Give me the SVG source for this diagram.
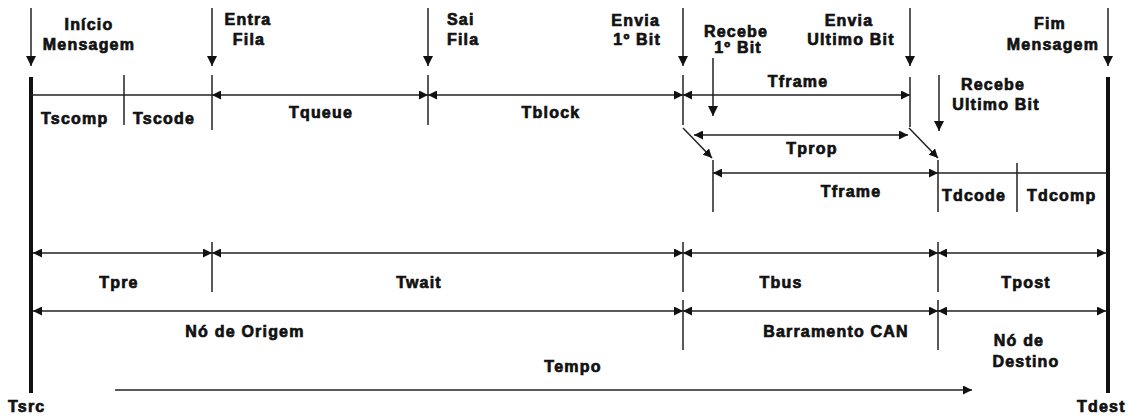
<svg xmlns="http://www.w3.org/2000/svg" width="1131" height="417" viewBox="0 0 1131 417">
<style>
  .t{font-family:"Liberation Sans",Arial,sans-serif;font-weight:bold;font-size:16px;letter-spacing:1.2px;fill:#111;stroke:#111;stroke-width:0.7px;paint-order:stroke}
  .m{text-anchor:middle}
  .e{text-anchor:end}
  .ln{stroke:#222;stroke-width:1.5;fill:none}
  .dim{stroke:#222;stroke-width:1.5;fill:none;marker-start:url(#ah);marker-end:url(#ah)}
  .one{stroke:#222;stroke-width:1.5;fill:none;marker-end:url(#ah)}
  .down{stroke:#222;stroke-width:1.5;fill:none;marker-end:url(#dh)}
  .bar{stroke:#111;stroke-width:4;fill:none}
</style>
<defs>
  <marker id="ah" markerUnits="userSpaceOnUse" markerWidth="10" markerHeight="9" refX="9" refY="4.5" orient="auto-start-reverse">
    <path d="M0,0 L9,4.5 L0,9 z" fill="#111"/>
  </marker>
  <marker id="dh" markerUnits="userSpaceOnUse" markerWidth="11" markerHeight="10" refX="10" refY="5" orient="auto">
    <path d="M0,0 L10,5 L0,10 z" fill="#111"/>
  </marker>
</defs>
<rect width="1131" height="417" fill="#fff"/>

<g id="connectors">
  <!-- thick time bars -->
  <line class="bar" x1="31" y1="77" x2="31" y2="393"/>
  <line class="bar" x1="1108" y1="77" x2="1108" y2="393"/>
  <!-- event arrows -->
  <line class="down" x1="31" y1="8" x2="31" y2="66"/>
  <line class="down" x1="212" y1="8" x2="212" y2="66"/>
  <line class="down" x1="428" y1="8" x2="428" y2="66"/>
  <line class="down" x1="683" y1="8" x2="683" y2="66"/>
  <line class="down" x1="910" y1="8" x2="910" y2="66"/>
  <line class="down" x1="1108" y1="8" x2="1108" y2="66"/>
  <line class="down" x1="713" y1="58" x2="713" y2="116"/>
  <line class="down" x1="939" y1="75" x2="939" y2="131"/>
  <!-- row 1 -->
  <line class="ln" x1="31" y1="95" x2="212" y2="95"/>
  <line class="dim" x1="212" y1="95" x2="428" y2="95"/>
  <line class="dim" x1="428" y1="95" x2="683" y2="95"/>
  <line class="dim" x1="683" y1="95" x2="910" y2="95"/>
  <line class="ln" x1="124" y1="75" x2="124" y2="125"/>
  <line class="ln" x1="212" y1="75" x2="212" y2="130"/>
  <line class="ln" x1="428" y1="75" x2="428" y2="125"/>
  <line class="ln" x1="683" y1="75" x2="683" y2="125"/>
  <line class="ln" x1="910" y1="77" x2="910" y2="127"/>
  <!-- row 2 -->
  <line class="dim" x1="694" y1="135" x2="908" y2="135"/>
  <line class="one" x1="683" y1="128" x2="712" y2="158"/>
  <line class="one" x1="909" y1="128" x2="938" y2="158"/>
  <!-- row 3 -->
  <line class="dim" x1="713" y1="173" x2="938" y2="173"/>
  <line class="ln" x1="938" y1="173" x2="1106" y2="173"/>
  <line class="ln" x1="713" y1="160" x2="713" y2="212"/>
  <line class="ln" x1="938" y1="160" x2="938" y2="212"/>
  <line class="ln" x1="1017" y1="163" x2="1017" y2="212"/>
  <!-- row 4 -->
  <line class="dim" x1="33" y1="253" x2="212" y2="253"/>
  <line class="dim" x1="212" y1="253" x2="683" y2="253"/>
  <line class="dim" x1="683" y1="253" x2="938" y2="253"/>
  <line class="dim" x1="938" y1="253" x2="1106" y2="253"/>
  <line class="ln" x1="212" y1="242" x2="212" y2="292"/>
  <line class="ln" x1="683" y1="242" x2="683" y2="292"/>
  <line class="ln" x1="938" y1="242" x2="938" y2="292"/>
  <!-- row 5 -->
  <line class="dim" x1="33" y1="311" x2="683" y2="311"/>
  <line class="dim" x1="683" y1="311" x2="938" y2="311"/>
  <line class="dim" x1="938" y1="311" x2="1106" y2="311"/>
  <line class="ln" x1="683" y1="300" x2="683" y2="350"/>
  <line class="ln" x1="938" y1="300" x2="938" y2="350"/>
  <!-- time axis -->
  <line class="one" x1="115" y1="390" x2="972" y2="390"/>
</g>

<g id="inicio-mensagem"><text class="t m" x="89" y="30">Início</text><text class="t m" x="89" y="50">Mensagem</text></g>
<g id="entra-fila"><text class="t m" x="248" y="25">Entra</text><text class="t m" x="249" y="45">Fila</text></g>
<g id="sai-fila"><text class="t" x="447" y="25">Sai</text><text class="t" x="447" y="45">Fila</text></g>
<g id="envia-1bit"><text class="t e" x="660" y="26">Envia</text><text class="t e" x="661" y="45">1º Bit</text></g>
<g id="recebe-1bit"><text class="t m" x="736" y="37">Recebe</text><text class="t m" x="738" y="53">1º Bit</text></g>
<g id="envia-ultimo"><text class="t m" x="849" y="26">Envia</text><text class="t m" x="851" y="45">Ultimo Bit</text></g>
<g id="fim-mensagem"><text class="t m" x="1050" y="29">Fim</text><text class="t m" x="1053" y="50">Mensagem</text></g>
<g id="recebe-ultimo"><text class="t m" x="993" y="90">Recebe</text><text class="t m" x="996" y="110">Ultimo Bit</text></g>

<g id="tscomp"><text class="t" x="41" y="124">Tscomp</text></g>
<g id="tscode"><text class="t" x="133" y="124">Tscode</text></g>
<g id="tqueue"><text class="t m" x="321" y="118">Tqueue</text></g>
<g id="tblock"><text class="t m" x="551" y="118">Tblock</text></g>
<g id="tframe1"><text class="t m" x="798" y="87">Tframe</text></g>
<g id="tprop"><text class="t m" x="812" y="154">Tprop</text></g>
<g id="tframe2"><text class="t m" x="851" y="197">Tframe</text></g>
<g id="tdcode"><text class="t" x="942" y="201">Tdcode</text></g>
<g id="tdcomp"><text class="t" x="1027" y="201">Tdcomp</text></g>

<g id="tpre"><text class="t m" x="119" y="288">Tpre</text></g>
<g id="twait"><text class="t m" x="419" y="288">Twait</text></g>
<g id="tbus"><text class="t m" x="781" y="288">Tbus</text></g>
<g id="tpost"><text class="t m" x="1026" y="288">Tpost</text></g>

<g id="no-origem"><text class="t m" x="245" y="337">Nó de Origem</text></g>
<g id="barramento-can"><text class="t m" x="836" y="337">Barramento CAN</text></g>
<g id="no-destino"><text class="t m" x="1019" y="346">Nó de</text><text class="t m" x="1026" y="367">Destino</text></g>

<g id="tempo"><text class="t m" x="573" y="372">Tempo</text></g>
<g id="tsrc"><text class="t" x="8" y="412">Tsrc</text></g>
<g id="tdest"><text class="t" x="1077" y="412">Tdest</text></g>
</svg>
